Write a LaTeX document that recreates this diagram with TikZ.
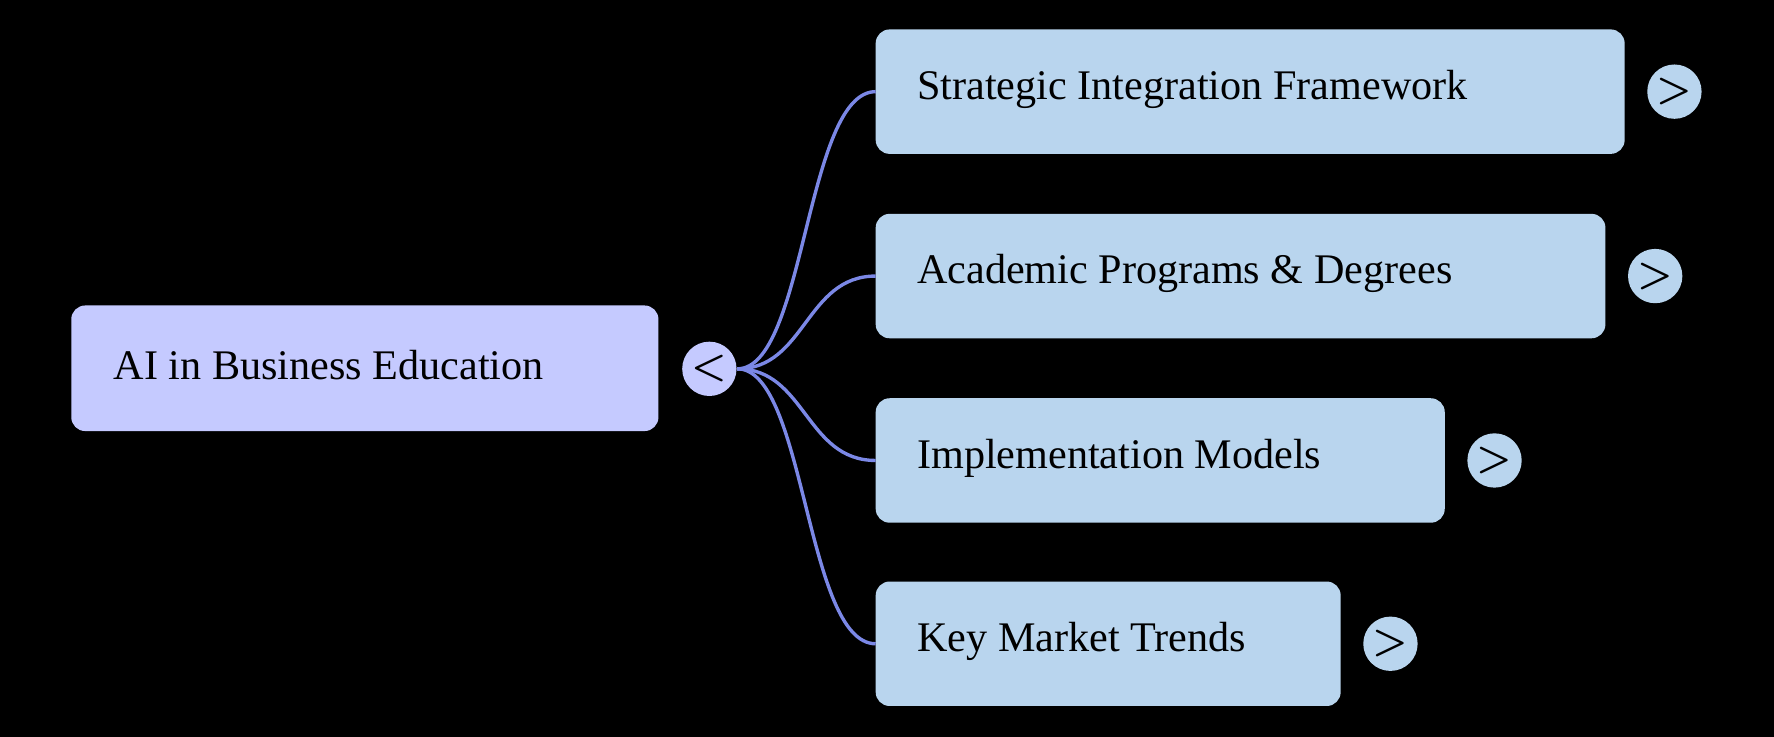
\documentclass[tikz,border=0pt]{standalone}
\usepackage{fontspec}
\setmainfont{Liberation Serif}
\begin{document}
\begin{tikzpicture}[x=0.01cm,y=-0.01cm,
  rootbox/.style={fill=rootc,rounded corners=3.5pt,inner sep=0pt},
  childbox/.style={fill=childc,rounded corners=3.5pt,inner sep=0pt},
  lbl/.style={anchor=west,font=\fontsize{10.6}{12}\selectfont,inner sep=0pt},
  btn/.style={circle,minimum size=0.48cm,inner sep=0pt,font=\sffamily\fontsize{10}{12}\selectfont\bfseries},
  link/.style={draw=linkc,line width=0.85pt}]
\definecolor{rootc}{HTML}{C5CAFF}
\definecolor{childc}{HTML}{B9D5EE}
\definecolor{linkc}{HTML}{7B88E6}
\fill[black] (0,0) rectangle (1568,651);
\useasboundingbox (0,0) rectangle (1568,651);
\fill[rootc,rounded corners=3.5pt] (63,270) rectangle (582,381);
\node[lbl] (root) at (100,323) {AI in Business Education};
\node[btn,fill=rootc] (rb) at (627,326) {<};
\foreach \i/\r/\y/\t in {1/1436/81/Strategic Integration Framework,
                          2/1419/244/Academic Programs \& Degrees,
                          3/1277/407/Implementation Models,
                          4/1185/569/Key Market Trends}{
  \fill[childc,rounded corners=3.5pt] (774,\y-55) rectangle (\r,\y+55);
  \node[lbl] (c\i) at (810,\y-2) {\t};
  \node[btn,fill=childc] (b\i) at (\r+44,\y) {>};
  \coordinate (e\i) at (774,\y);
  \draw[link] (rb.east) .. controls (712,326) and (712,\y) .. (e\i);
}
\end{tikzpicture}
\end{document}
